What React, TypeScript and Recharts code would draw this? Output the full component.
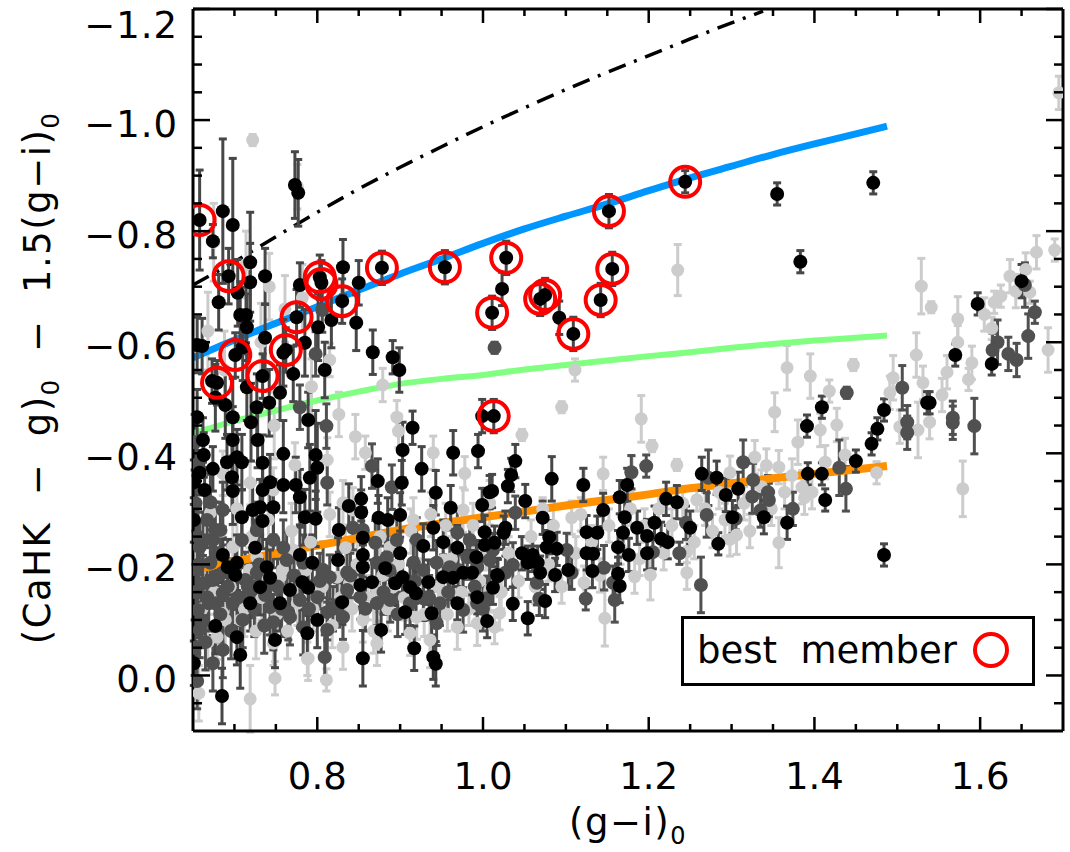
import React from 'react';
import {
  ComposedChart,
  Scatter,
  Line,
  XAxis,
  YAxis,
  ErrorBar,
} from 'recharts';

const FONT = '"DejaVu Sans", sans-serif';

// [ (g-i)0, (CaHK-g)0 - 1.5(g-i)0, error ]
const blackPts = [
  [0.658, -0.82, 0.09], [0.686, -0.836, 0.13], [0.698, -0.811, 0.12], [0.674, -0.782, 0.03],
  [0.693, -0.719, 0.05], [0.719, -0.744, 0.09], [0.737, -0.719, 0.05], [0.719, -0.708, 0.07],
  [0.704, -0.689, 0.06], [0.681, -0.672, 0.05], [0.707, -0.649, 0.06], [0.714, -0.649, 0.05],
  [0.715, -0.627, 0.06], [0.661, -0.593, 0.05], [0.655, -0.595, 0.05], [0.71, -0.591, 0.06],
  [0.701, -0.577, 0.04], [0.737, -0.608, 0.06], [0.785, -0.599, 0.06], [0.801, -0.627, 0.06],
  [0.817, -0.64, 0.05], [0.775, -0.645, 0.05], [0.779, -0.703, 0.04], [0.803, -0.717, 0.04],
  [0.805, -0.707, 0.04], [0.831, -0.735, 0.05], [0.83, -0.674, 0.04], [0.85, -0.707, 0.04],
  [0.847, -0.635, 0.05], [0.867, -0.582, 0.04], [0.891, -0.573, 0.03], [0.899, -0.55, 0.04],
  [0.809, -0.55, 0.05], [0.771, -0.543, 0.05], [0.755, -0.509, 0.05], [0.742, -0.491, 0.06],
  [0.727, -0.483, 0.06], [0.72, -0.456, 0.07], [0.689, -0.487, 0.06], [0.677, -0.5, 0.06],
  [0.655, -0.465, 0.05], [0.698, -0.465, 0.07], [0.789, -0.46, 0.05], [0.915, -0.446, 0.03],
  [0.715, -0.519, 0.06], [0.759, -0.581, 0.06], [0.762, -0.586, 0.04], [0.734, -0.539, 0.04],
  [0.679, -0.527, 0.04], [0.673, -0.53, 0.04], [0.773, -0.883, 0.06], [0.777, -0.869, 0.06],
  [0.878, -0.734, 0.03], [0.954, -0.735, 0.03], [1.028, -0.752, 0.03], [1.023, -0.696, 0.03],
  [1.011, -0.653, 0.03], [1.069, -0.678, 0.03], [1.075, -0.685, 0.03], [1.092, -0.644, 0.03],
  [1.109, -0.615, 0.03], [1.142, -0.676, 0.03], [1.156, -0.732, 0.03], [1.152, -0.836, 0.03],
  [1.244, -0.889, 0.02], [1.355, -0.867, 0.02], [1.471, -0.887, 0.02], [1.383, -0.745, 0.02],
  [1.013, -0.467, 0.03], [0.999, -0.467, 0.03], [0.658, -0.365, 0.04],
  [0.662, -0.424, 0.04], [0.698, -0.424, 0.06], [0.728, -0.424, 0.05], [0.663, -0.397, 0.04],
  [0.759, -0.399, 0.06], [0.798, -0.397, 0.08], [0.691, -0.384, 0.05], [0.703, -0.393, 0.05],
  [0.709, -0.384, 0.05], [0.674, -0.372, 0.04], [0.734, -0.383, 0.05], [0.8, -0.374, 0.08],
  [0.651, -0.348, 0.04], [0.697, -0.357, 0.06], [0.743, -0.348, 0.05], [0.759, -0.343, 0.05],
  [0.774, -0.343, 0.05], [0.791, -0.356, 0.06], [0.664, -0.334, 0.04], [0.698, -0.332, 0.06],
  [0.734, -0.334, 0.05], [0.779, -0.321, 0.05], [0.722, -0.298, 0.05], [0.731, -0.303, 0.05],
  [0.747, -0.303, 0.05], [0.709, -0.285, 0.05], [0.651, -0.28, 0.04], [0.734, -0.278, 0.05],
  [0.785, -0.285, 0.05], [0.798, -0.282, 0.05], [0.838, -0.305, 0.04], [0.853, -0.318, 0.04],
  [0.873, -0.35, 0.04], [0.853, -0.294, 0.04], [0.874, -0.284, 0.04], [0.885, -0.28, 0.04],
  [0.9, -0.289, 0.04], [0.903, -0.406, 0.05], [0.964, -0.401, 0.04], [0.994, -0.404, 0.03],
  [0.926, -0.372, 0.04], [0.943, -0.329, 0.04], [0.961, -0.302, 0.04], [1.008, -0.33, 0.03],
  [0.999, -0.307, 0.03], [0.902, -0.347, 0.04], [0.94, -0.266, 0.04], [1.002, -0.258, 0.03],
  [0.928, -0.233, 0.04], [0.952, -0.24, 0.04], [0.969, -0.23, 0.04], [0.992, -0.213, 0.03],
  [1.002, -0.235, 0.03], [1.017, -0.181, 0.03], [0.855, -0.248, 0.04], [0.855, -0.217, 0.04],
  [0.9, -0.22, 0.04], [0.826, -0.262, 0.04], [0.825, -0.208, 0.04], [0.779, -0.217, 0.05],
  [0.794, -0.203, 0.05], [0.739, -0.195, 0.05], [0.725, -0.23, 0.05], [0.686, -0.217, 0.05],
  [0.703, -0.203, 0.05], [0.692, -0.195, 0.05], [0.701, -0.181, 0.05], [0.743, -0.176, 0.05],
  [0.731, -0.159, 0.05], [0.767, -0.154, 0.05], [0.782, -0.168, 0.05], [0.789, -0.158, 0.05],
  [0.719, -0.13, 0.05], [0.755, -0.13, 0.05], [0.83, -0.132, 0.04], [0.852, -0.163, 0.04],
  [0.866, -0.168, 0.04], [0.855, -0.195, 0.04], [0.882, -0.193, 0.04], [0.894, -0.166, 0.04],
  [0.903, -0.177, 0.04], [0.919, -0.148, 0.04], [0.912, -0.159, 0.04], [0.906, -0.114, 0.04],
  [0.938, -0.112, 0.04], [0.969, -0.13, 0.03], [1.005, -0.098, 0.03], [0.993, -0.141, 0.03],
  [0.934, -0.168, 0.04], [0.952, -0.177, 0.04], [0.964, -0.176, 0.04], [0.976, -0.185, 0.04],
  [0.987, -0.185, 0.04], [0.8, -0.1, 0.05], [0.788, -0.076, 0.05], [0.749, -0.064, 0.05],
  [0.703, -0.069, 0.05], [0.677, -0.089, 0.05], [0.877, -0.082, 0.04], [0.855, -0.031, 0.05],
  [0.917, -0.049, 0.04], [0.94, -0.033, 0.04], [0.943, -0.021, 0.04], [0.707, -0.037, 0.06],
  [0.685, 0.037, 0.05], [0.651, -0.022, 0.04],
  [1.039, -0.386, 0.03], [1.034, -0.361, 0.03], [1.03, -0.341, 0.03], [1.011, -0.332, 0.03],
  [1.083, -0.354, 0.04], [1.121, -0.343, 0.03], [1.174, -0.343, 0.03], [1.051, -0.314, 0.03],
  [1.072, -0.284, 0.03], [1.145, -0.298, 0.03], [1.165, -0.321, 0.03], [1.171, -0.285, 0.03],
  [1.027, -0.266, 0.03], [1.025, -0.257, 0.03], [1.014, -0.239, 0.03], [1.047, -0.22, 0.03],
  [1.08, -0.249, 0.03], [1.077, -0.231, 0.03], [1.089, -0.228, 0.03], [1.06, -0.217, 0.03],
  [1.054, -0.203, 0.03], [1.066, -0.203, 0.03], [1.069, -0.185, 0.03], [1.087, -0.181, 0.03],
  [1.103, -0.19, 0.03], [1.018, -0.179, 0.03], [1.125, -0.258, 0.03], [1.138, -0.257, 0.03],
  [1.125, -0.22, 0.03], [1.133, -0.219, 0.03], [1.132, -0.188, 0.03], [1.163, -0.231, 0.03],
  [1.169, -0.257, 0.03], [1.176, -0.217, 0.03], [1.186, -0.266, 0.03], [1.198, -0.251, 0.03],
  [1.207, -0.275, 0.03], [1.198, -0.22, 0.03], [1.215, -0.246, 0.03], [1.223, -0.24, 0.03],
  [1.221, -0.318, 0.03], [1.234, -0.312, 0.03], [1.25, -0.266, 0.03], [1.163, -0.183, 0.03],
  [1.165, -0.161, 0.03], [1.012, -0.158, 0.03], [1.036, -0.129, 0.03], [1.075, -0.134, 0.03],
  [1.054, -0.103, 0.03], [1.264, -0.363, 0.03], [1.282, -0.356, 0.03], [1.293, -0.325, 0.03],
  [1.308, -0.336, 0.03], [1.284, -0.237, 0.02], [1.301, -0.285, 0.03], [1.339, -0.285, 0.03],
  [1.367, -0.275, 0.03],
  [1.597, -0.669, 0.02], [1.65, -0.71, 0.03], [1.57, -0.577, 0.02], [1.614, -0.561, 0.02],
  [1.536, -0.491, 0.02], [1.539, -0.491, 0.02], [1.409, -0.483, 0.02], [1.391, -0.449, 0.02],
  [1.484, -0.478, 0.02], [1.476, -0.444, 0.02], [1.469, -0.417, 0.02], [1.45, -0.386, 0.02],
  [1.392, -0.363, 0.02], [1.409, -0.363, 0.02], [1.413, -0.316, 0.02], [1.484, -0.217, 0.02],
];

const darkPts = [
  [1.014, -0.59, 0.01], [0.798, -0.579, 0.04], [0.779, -0.483, 0.04], [0.811, -0.449, 0.04],
  [0.806, -0.658, 0.04], [0.812, -0.347, 0.04], [0.671, -0.312, 0.05], [0.686, -0.298, 0.05],
  [0.667, -0.28, 0.05], [0.677, -0.262, 0.05], [0.658, -0.231, 0.05], [0.674, -0.244, 0.05],
  [0.759, -0.23, 0.05], [0.866, -0.377, 0.04], [0.89, -0.339, 0.04], [0.843, -0.266, 0.04],
  [0.87, -0.239, 0.04], [0.887, -0.19, 0.04],
  [0.662, -0.166, 0.05], [0.674, -0.172, 0.05], [0.686, -0.148, 0.05], [0.667, -0.141, 0.05],
  [0.656, -0.118, 0.05], [0.677, -0.13, 0.05], [0.698, -0.13, 0.05], [0.713, -0.172, 0.05],
  [0.721, -0.154, 0.05], [0.737, -0.145, 0.05], [0.743, -0.123, 0.05], [0.765, -0.114, 0.05],
  [0.779, -0.136, 0.05], [0.8, -0.141, 0.05], [0.812, -0.114, 0.05], [0.824, -0.127, 0.04],
  [0.836, -0.154, 0.04], [0.852, -0.141, 0.04], [0.872, -0.13, 0.04], [0.888, -0.136, 0.04],
  [0.912, -0.13, 0.04], [0.928, -0.139, 0.04], [0.948, -0.13, 0.04], [0.976, -0.118, 0.04],
  [0.993, -0.13, 0.04], [1.005, -0.139, 0.04], [0.658, -0.082, 0.05], [0.674, -0.022, 0.05],
  [0.686, -0.046, 0.05], [0.747, -0.096, 0.05], [0.767, -0.105, 0.05], [0.783, -0.087, 0.05],
  [0.812, -0.082, 0.05], [0.831, -0.105, 0.04], [0.809, -0.033, 0.04], [0.944, -0.094, 0.04],
  [0.662, -0.244, 0.05], [0.683, -0.262, 0.05], [0.709, -0.244, 0.05], [0.727, -0.262, 0.05],
  [0.747, -0.244, 0.05], [0.763, -0.208, 0.05], [0.783, -0.203, 0.05], [0.807, -0.19, 0.05],
  [0.815, -0.177, 0.04], [0.836, -0.185, 0.04], [0.872, -0.203, 0.04], [0.884, -0.213, 0.04],
  [0.916, -0.203, 0.04], [0.928, -0.19, 0.04], [0.944, -0.203, 0.04], [0.96, -0.195, 0.04],
  [0.981, -0.213, 0.04], [0.993, -0.195, 0.04], [1.008, -0.208, 0.04], [0.855, -0.262, 0.04],
  [0.896, -0.244, 0.04], [0.92, -0.244, 0.04], [0.969, -0.257, 0.04], [0.984, -0.244, 0.04],
  [0.655, -0.19, 0.05], [0.671, -0.203, 0.05], [0.686, -0.185, 0.05], [0.727, -0.185, 0.05],
  [0.743, -0.166, 0.05], [0.653, -0.15, 0.05], [0.657, -0.2, 0.05], [0.66, -0.1, 0.05],
  [0.665, -0.06, 0.05], [0.669, -0.13, 0.05], [0.68, -0.18, 0.05], [0.683, -0.11, 0.05],
  [0.692, -0.16, 0.05], [0.696, -0.08, 0.05], [0.704, -0.14, 0.05], [0.71, -0.1, 0.05],
  [0.716, -0.16, 0.05], [0.724, -0.12, 0.05], [0.73, -0.2, 0.05], [0.736, -0.09, 0.05],
  [0.752, -0.16, 0.05], [0.757, -0.12, 0.05], [0.772, -0.18, 0.05], [0.79, -0.12, 0.05],
  [0.803, -0.17, 0.05], [0.819, -0.12, 0.04], [0.84, -0.18, 0.04], [0.858, -0.12, 0.04],
  [0.88, -0.15, 0.04], [0.897, -0.11, 0.04], [0.918, -0.17, 0.04], [0.935, -0.14, 0.04],
  [0.958, -0.15, 0.04], [0.97, -0.19, 0.04], [0.99, -0.16, 0.04], [1.0, -0.12, 0.04],
  [0.652, -0.42, 0.05], [0.655, -0.38, 0.05], [0.653, -0.31, 0.05], [0.656, -0.25, 0.05],
  [0.652, -0.05, 0.05], [0.655, 0.01, 0.05],
  [1.197, -0.377, 0.02], [1.179, -0.366, 0.03], [1.039, -0.293, 0.03], [1.012, -0.226, 0.03],
  [1.036, -0.199, 0.04], [1.027, -0.185, 0.03], [1.101, -0.226, 0.03], [1.107, -0.185, 0.03],
  [1.065, -0.167, 0.04], [1.068, -0.138, 0.03], [1.124, -0.138, 0.02], [1.146, -0.194, 0.04],
  [1.157, -0.167, 0.03], [1.159, -0.136, 0.04], [1.205, -0.222, 0.03], [1.237, -0.22, 0.02],
  [1.245, -0.275, 0.03], [1.263, -0.163, 0.05], [1.272, -0.356, 0.05], [1.27, -0.289, 0.04],
  [1.314, -0.384, 0.04], [1.326, -0.352, 0.03], [1.325, -0.322, 0.03], [1.344, -0.33, 0.03],
  [1.345, -0.316, 0.03], [1.305, -0.282, 0.02], [1.335, -0.297, 0.03], [1.374, -0.3, 0.03],
  [1.654, -0.703, 0.04], [1.666, -0.654, 0.02], [1.658, -0.611, 0.04], [1.644, -0.568, 0.03],
  [1.634, -0.579, 0.03], [1.621, -0.6, 0.04], [1.615, -0.586, 0.03], [1.506, -0.518, 0.04],
  [1.512, -0.456, 0.03], [1.512, -0.437, 0.03], [1.567, -0.464, 0.03], [1.567, -0.455, 0.03],
  [1.593, -0.449, 0.05], [1.439, -0.509, 0.01], [1.43, -0.374, 0.05], [1.438, -0.336, 0.04],
];

const lightPts = [
  [1.695, -1.049, 0.03], [1.235, -0.73, 0.046], [0.722, -0.964, 0.01], [1.69, -0.766, 0.02],
  [0.675, -0.78, 0.07], [0.714, -0.74, 0.06], [0.742, -0.7, 0.06], [0.782, -0.68, 0.06],
  [0.776, -0.88, 0.04], [0.815, -0.568, 0.03], [0.879, -0.523, 0.03], [0.896, -0.465, 0.03],
  [1.111, -0.55, 0.02], [1.095, -0.483, 0.01], [1.191, -0.462, 0.042], [1.047, -0.433, 0.01],
  [1.204, -0.413, 0.01], [1.352, -0.474, 0.035], [1.145, -0.363, 0.03], [1.234, -0.379, 0.01],
  [1.298, -0.365, 0.03], [1.328, -0.393, 0.03], [1.107, -0.284, 0.03], [1.072, -0.3, 0.02],
  [1.258, -0.316, 0.02], [1.147, -0.103, 0.05], [1.202, -0.181, 0.045], [1.183, -0.178, 0.03],
  [1.246, -0.185, 0.03], [1.306, -0.253, 0.035], [1.298, -0.245, 0.03], [1.357, -0.239, 0.045],
  [1.02, -0.112, 0.03], [1.014, -0.087, 0.03], [1.122, -0.167, 0.03], [1.246, -0.223, 0.02],
  [1.122, -0.343, 0.03], [1.18, -0.365, 0.03],
  [0.858, -0.401, 0.03], [0.94, -0.401, 0.03], [0.978, -0.364, 0.03], [0.773, -0.379, 0.04],
  [0.812, -0.388, 0.04], [0.831, -0.311, 0.04], [0.843, -0.298, 0.04], [0.916, -0.28, 0.04],
  [0.976, -0.298, 0.04], [1.008, -0.311, 0.04], [0.888, -0.231, 0.04], [0.824, -0.177, 0.04],
  [0.855, -0.1, 0.04], [0.912, -0.076, 0.04], [0.993, -0.094, 0.04], [0.789, -0.031, 0.04],
  [0.811, 0.008, 0.02], [0.719, 0.042, 0.06], [0.657, 0.032, 0.05], [0.747, -0.058, 0.04],
  [0.707, -0.1, 0.04], [0.679, -0.069, 0.04], [0.891, -0.159, 0.04], [0.952, -0.148, 0.04],
  [0.969, -0.087, 0.04], [0.936, -0.064, 0.05], [0.872, -0.154, 0.04], [0.839, -0.166, 0.04],
  [0.8, -0.159, 0.04], [0.755, -0.177, 0.04], [0.771, -0.226, 0.04], [0.727, -0.213, 0.04],
  [0.698, -0.231, 0.04], [0.671, -0.293, 0.04], [0.747, -0.334, 0.04], [0.719, -0.347, 0.04],
  [0.686, -0.364, 0.04], [0.855, -0.203, 0.04], [0.952, -0.208, 0.04], [0.988, -0.185, 0.04],
  [1.008, -0.154, 0.04], [0.92, -0.105, 0.04], [0.872, -0.058, 0.04], [0.831, -0.051, 0.04],
  [0.686, -0.112, 0.04], [0.749, 0.005, 0.03], [0.788, -0.03, 0.03],
  [0.661, -0.12, 0.04], [0.668, -0.06, 0.05], [0.676, -0.15, 0.04], [0.689, -0.1, 0.05],
  [0.695, -0.16, 0.04], [0.712, -0.12, 0.05], [0.718, -0.19, 0.04], [0.726, -0.08, 0.05],
  [0.733, -0.14, 0.04], [0.751, -0.11, 0.04], [0.758, -0.19, 0.04], [0.764, -0.08, 0.05],
  [0.776, -0.13, 0.04], [0.786, -0.19, 0.04], [0.795, -0.12, 0.04], [0.806, -0.16, 0.04],
  [0.818, -0.09, 0.04], [0.828, -0.14, 0.04], [0.842, -0.12, 0.04], [0.848, -0.2, 0.04],
  [0.861, -0.14, 0.04], [0.868, -0.08, 0.04], [0.879, -0.18, 0.04], [0.885, -0.12, 0.04],
  [0.898, -0.2, 0.04], [0.905, -0.14, 0.04], [0.922, -0.17, 0.04], [0.929, -0.11, 0.04],
  [0.946, -0.16, 0.04], [0.957, -0.11, 0.03], [0.962, -0.21, 0.04], [0.974, -0.15, 0.03],
  [0.983, -0.12, 0.03], [0.996, -0.17, 0.03], [1.004, -0.22, 0.03], [1.022, -0.15, 0.03],
  [1.031, -0.22, 0.03], [1.043, -0.17, 0.03], [1.058, -0.25, 0.03], [1.063, -0.16, 0.03],
  [1.079, -0.2, 0.03], [1.085, -0.27, 0.03], [1.095, -0.16, 0.03], [1.112, -0.22, 0.03],
  [1.118, -0.29, 0.03], [1.131, -0.24, 0.03], [1.141, -0.18, 0.03], [1.152, -0.27, 0.03],
  [1.166, -0.23, 0.03], [1.178, -0.3, 0.03], [1.189, -0.21, 0.03], [1.195, -0.27, 0.03],
  [1.212, -0.3, 0.03], [1.218, -0.22, 0.03], [1.228, -0.27, 0.03], [1.241, -0.31, 0.03],
  [1.255, -0.24, 0.03], [1.268, -0.3, 0.03], [1.277, -0.26, 0.03], [1.285, -0.33, 0.03],
  [1.292, -0.28, 0.03], [1.315, -0.31, 0.03], [1.322, -0.26, 0.03], [1.336, -0.34, 0.03],
  [1.348, -0.3, 0.03], [1.364, -0.33, 0.03], [1.373, -0.36, 0.03], [1.388, -0.32, 0.03],
  [0.684, -0.26, 0.05], [0.703, -0.3, 0.05], [0.721, -0.25, 0.05], [0.741, -0.28, 0.05],
  [0.769, -0.26, 0.05], [0.792, -0.24, 0.05], [0.815, -0.29, 0.04], [0.834, -0.23, 0.04],
  [0.876, -0.25, 0.04], [0.913, -0.26, 0.04], [0.937, -0.29, 0.04], [0.955, -0.27, 0.04],
  [0.988, -0.27, 0.04], [0.668, -0.62, 0.07], [0.688, -0.55, 0.07], [0.732, -0.6, 0.07],
  [0.748, -0.45, 0.06], [0.761, -0.66, 0.06], [0.793, -0.52, 0.05], [0.826, -0.47, 0.04],
  [0.846, -0.43, 0.04], [0.898, -0.44, 0.03],
  [1.529, -0.701, 0.05], [1.541, -0.663, 0.01], [1.573, -0.642, 0.04], [1.573, -0.6, 0.03],
  [1.59, -0.563, 0.03], [1.586, -0.533, 0.02], [1.56, -0.546, 0.03], [1.554, -0.505, 0.03],
  [1.531, -0.527, 0.03], [1.523, -0.577, 0.04], [1.495, -0.536, 0.04], [1.491, -0.509, 0.03],
  [1.539, -0.456, 0.03], [1.525, -0.442, 0.05], [1.503, -0.448, 0.03], [1.579, -0.336, 0.05],
  [1.447, -0.559, 0.01], [1.367, -0.554, 0.04], [1.395, -0.539, 0.04], [1.418, -0.512, 0.02],
  [1.427, -0.451, 0.03], [1.407, -0.442, 0.03], [1.38, -0.42, 0.04], [1.357, -0.375, 0.03],
  [1.342, -0.378, 0.03], [1.413, -0.384, 0.03], [1.437, -0.397, 0.03], [1.475, -0.365, 0.02],
  [1.385, -0.339, 0.03], [1.397, -0.33, 0.03], [1.617, -0.672, 0.02], [1.625, -0.683, 0.02],
  [1.636, -0.719, 0.03], [1.655, -0.731, 0.03], [1.643, -0.692, 0.03], [1.66, -0.69, 0.02],
  [1.668, -0.762, 0.03], [1.682, -0.586, 0.04], [1.614, -0.625, 0.02], [1.605, -0.65, 0.03],
];

const bestMembers = [
  [0.658, -0.82], [0.693, -0.719], [0.701, -0.577], [0.679, -0.527], [0.734, -0.539],
  [0.762, -0.586], [0.775, -0.645], [0.803, -0.717], [0.805, -0.705], [0.83, -0.674],
  [0.878, -0.734], [0.954, -0.735], [1.028, -0.752], [1.011, -0.653], [1.069, -0.678],
  [1.075, -0.685], [1.109, -0.615], [1.142, -0.676], [1.156, -0.732], [1.152, -0.836],
  [1.244, -0.889], [1.013, -0.467],
];

// model sequences
const blueCurve = [
  [0.65, -0.572], [0.7, -0.604], [0.75, -0.634], [0.8, -0.664], [0.85, -0.694], [0.9, -0.723],
  [0.95, -0.75], [1.0, -0.778], [1.05, -0.804], [1.1, -0.827], [1.15, -0.849], [1.2, -0.873],
  [1.25, -0.896], [1.3, -0.917], [1.35, -0.938], [1.4, -0.957], [1.45, -0.975], [1.4876, -0.989],
];
const greenCurve = [
  [0.65, -0.436], [0.7, -0.458], [0.75, -0.477], [0.8, -0.495], [0.85, -0.511], [0.9, -0.525],
  [0.95, -0.534], [1.0, -0.541], [1.05, -0.551], [1.1, -0.559], [1.15, -0.567], [1.2, -0.575],
  [1.25, -0.582], [1.3, -0.59], [1.35, -0.597], [1.4, -0.603], [1.45, -0.608], [1.4876, -0.612],
];
const orangeCurve = [
  [0.65, -0.19], [0.7, -0.205], [0.75, -0.22], [0.8, -0.234], [0.85, -0.248], [0.9, -0.262],
  [0.95, -0.274], [1.0, -0.285], [1.05, -0.295], [1.1, -0.306], [1.15, -0.316], [1.2, -0.326],
  [1.25, -0.337], [1.3, -0.346], [1.35, -0.355], [1.4, -0.363], [1.45, -0.371], [1.4876, -0.377],
];
const dashDotCurve = [
  [0.65, -0.703], [0.7, -0.745], [0.75, -0.79], [0.8, -0.834], [0.85, -0.876], [0.9, -0.915],
  [0.95, -0.952], [1.0, -0.988], [1.05, -1.022], [1.1, -1.055], [1.15, -1.086], [1.2, -1.116],
  [1.25, -1.146], [1.3, -1.175], [1.338, -1.196],
];

const xTicks = [0.7, 0.75, 0.8, 0.85, 0.9, 0.95, 1.0, 1.05, 1.1, 1.15, 1.2, 1.25, 1.3, 1.35, 1.4, 1.45, 1.5, 1.55, 1.6, 1.65];
const yTicks = [-1.2, -1.15, -1.1, -1.05, -1.0, -0.95, -0.9, -0.85, -0.8, -0.75, -0.7, -0.65, -0.6, -0.55, -0.5, -0.45, -0.4, -0.35, -0.3, -0.25, -0.2, -0.15, -0.1, -0.05, 0.0, 0.05];

const toPts = (arr: number[][]) => arr.map(([x, y, err]) => ({ x, y, err }));
const toLine = (arr: number[][]) => arr.map(([x, y]) => ({ x, y }));

const isMajor = (v: number) => Math.abs(v * 5 - Math.round(v * 5)) < 1e-6;
const fmt = (v: number) => {
  const s = Math.abs(v).toFixed(1);
  return v < -1e-9 ? '\u2212' + s : s;
};

function BottomTick(props: any) {
  const { x, y, payload } = props;
  const major = isMajor(payload.value);
  return (
    <g>
      <line x1={x} x2={x} y1={y} y2={y - (major ? 14 : 7)} stroke="#000" strokeWidth={2.5} />
      {major && (
        <text x={x} y={y + 58} textAnchor="middle" fontSize={37} fontFamily={FONT} fill="#000">
          {fmt(payload.value)}
        </text>
      )}
    </g>
  );
}

function TopTick(props: any) {
  const { x, y, payload } = props;
  const major = isMajor(payload.value);
  return <line x1={x} x2={x} y1={y} y2={y + (major ? 14 : 7)} stroke="#000" strokeWidth={2.5} />;
}

function LeftTick(props: any) {
  const { x, y, payload } = props;
  const major = isMajor(payload.value);
  // IDL pushes the top label below the frame corner
  const ty = payload.value < -1.19 ? y + 29 : y + 17;
  return (
    <g>
      <line x1={x} x2={x + (major ? 17 : 9)} y1={y} y2={y} stroke="#000" strokeWidth={2.5} />
      {major && (
        <text x={x - 15} y={ty} textAnchor="end" fontSize={37} fontFamily={FONT} fill="#000" letterSpacing={1}>
          {fmt(payload.value)}
        </text>
      )}
    </g>
  );
}

function RightTick(props: any) {
  const { x, y, payload } = props;
  const major = isMajor(payload.value);
  return <line x1={x} x2={x - (major ? 17 : 9)} y1={y} y2={y} stroke="#000" strokeWidth={2.5} />;
}

function YTitle(props: any) {
  const vb = props.viewBox || { x: 0, y: 9, width: 193, height: 722 };
  const cx = vb.x + 50;
  const cy = vb.y + vb.height / 2 + 8;
  return (
    <text
      x={cx}
      y={cy}
      transform={`rotate(-90 ${cx} ${cy})`}
      textAnchor="middle"
      fontSize={37}
      fontFamily={FONT}
      letterSpacing={1.5}
      fill="#000"
      style={{ whiteSpace: 'pre' }}
    >
      <tspan>(CaHK  −  g)</tspan>
      <tspan fontSize={24} dy={9}>0</tspan>
      <tspan dy={-9}>  −  1.5(g−i)</tspan>
      <tspan fontSize={24} dy={9}>0</tspan>
    </text>
  );
}

function XTitle(props: any) {
  const vb = props.viewBox || { x: 193, y: 731, width: 870, height: 121 };
  const cx = vb.x + vb.width / 2;
  return (
    <text x={cx} y={vb.y + 104} textAnchor="middle" fontSize={37} fontFamily={FONT} letterSpacing={1.5} fill="#000">
      <tspan>(g−i)</tspan>
      <tspan fontSize={24} dy={9}>0</tspan>
    </text>
  );
}

const dot = (r: number, fill: string) => (p: any) => <circle cx={p.cx} cy={p.cy} r={r} fill={fill} />;
const ring = (p: any) => <circle cx={p.cx} cy={p.cy} r={15} fill="none" stroke="#ff0000" strokeWidth={4} />;

export default function App() {
  return (
    <div style={{ position: 'absolute', left: 0, top: 0, width: 1070, height: 852, background: '#fff' }}>
      <ComposedChart width={1070} height={852} margin={{ top: 8, right: 6, bottom: 0, left: 0 }}>
        <XAxis
          dataKey="x"
          type="number"
          domain={[0.65, 1.7]}
          allowDataOverflow
          ticks={xTicks}
          interval={0}
          height={121}
          tickSize={0}
          tickMargin={0}
          tick={<BottomTick />}
          axisLine={{ stroke: '#000', strokeWidth: 3 }}
          label={<XTitle />}
        />
        <XAxis
          xAxisId="top"
          dataKey="x"
          orientation="top"
          type="number"
          domain={[0.65, 1.7]}
          allowDataOverflow
          ticks={xTicks}
          interval={0}
          height={1}
          tickSize={0}
          tickMargin={0}
          tick={<TopTick />}
          axisLine={{ stroke: '#000', strokeWidth: 3 }}
        />
        <YAxis
          dataKey="y"
          type="number"
          domain={[-1.2, 0.1]}
          reversed
          allowDataOverflow
          ticks={yTicks}
          interval={0}
          width={193}
          tickSize={0}
          tickMargin={0}
          tick={<LeftTick />}
          axisLine={{ stroke: '#000', strokeWidth: 3 }}
          label={<YTitle />}
        />
        <YAxis
          yAxisId="right"
          dataKey="y"
          orientation="right"
          type="number"
          domain={[-1.2, 0.1]}
          reversed
          allowDataOverflow
          ticks={yTicks}
          interval={0}
          width={1}
          tickSize={0}
          tickMargin={0}
          tick={<RightTick />}
          axisLine={{ stroke: '#000', strokeWidth: 3 }}
        />

        <Scatter data={toPts(lightPts)} fill="#cccccc" shape={dot(6.5, '#cccccc')} isAnimationActive={false}>
          <ErrorBar dataKey="err" direction="y" width={4} strokeWidth={3} stroke="#cccccc" />
        </Scatter>
        <Scatter data={toPts(darkPts)} fill="#505050" shape={dot(7, '#505050')} isAnimationActive={false}>
          <ErrorBar dataKey="err" direction="y" width={4} strokeWidth={3} stroke="#505050" />
        </Scatter>

        <Line data={toLine(orangeCurve)} dataKey="y" type="monotone" stroke="#ff9000" strokeWidth={8} dot={false} isAnimationActive={false} />
        <Line data={toLine(greenCurve)} dataKey="y" type="monotone" stroke="#80ff80" strokeWidth={6} dot={false} isAnimationActive={false} />
        <Line data={toLine(blueCurve)} dataKey="y" type="monotone" stroke="#0096ff" strokeWidth={7} dot={false} isAnimationActive={false} />
        <Line data={toLine(dashDotCurve)} dataKey="y" type="monotone" stroke="#000" strokeWidth={3.5} strokeDasharray="18 9 3 9" dot={false} isAnimationActive={false} />

        <Scatter data={toPts(blackPts)} fill="#000" shape={dot(7, '#000')} isAnimationActive={false}>
          <ErrorBar dataKey="err" direction="y" width={4} strokeWidth={3} stroke="#474747" />
        </Scatter>
        <Scatter data={toLine(bestMembers)} fill="none" shape={ring} isAnimationActive={false} />

        {/* frame companion: puts the top/right axes in use so they are drawn */}
        <Scatter xAxisId="top" yAxisId="right" data={toLine(bestMembers)} shape={() => <g />} isAnimationActive={false} />
      </ComposedChart>

      {/* legend box */}
      <svg width={354} height={70} style={{ position: 'absolute', left: 681, top: 616 }}>
        <rect x={1.5} y={1.5} width={351} height={67} fill="#fff" stroke="#000" strokeWidth={3} />
        <text x={16} y={47} fontSize={37} fontFamily={FONT} fill="#000" style={{ whiteSpace: 'pre' }}>
          best  member
        </text>
        <circle cx={310} cy={34} r={16} fill="none" stroke="#ff0000" strokeWidth={4} />
      </svg>
    </div>
  );
}
